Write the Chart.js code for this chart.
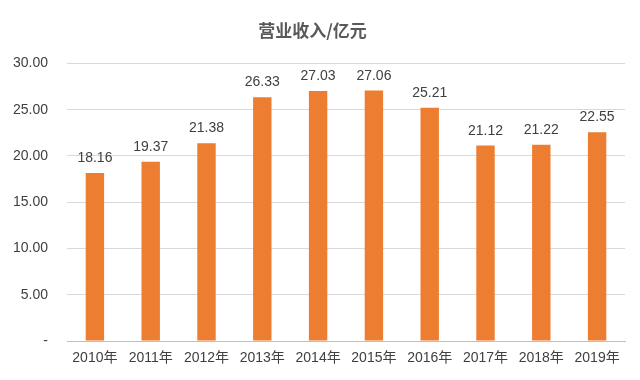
<!DOCTYPE html>
<html>
<head>
<meta charset="utf-8">
<script src="https://cdn.jsdelivr.net/npm/chart.js@4"></script>
<style>
  html, body { margin: 0; padding: 0; background: #fff; }
  #wrap { width: 640px; height: 380px; }
</style>
</head>
<body>
<div id="wrap"><canvas id="revChart"></canvas></div>
<script>
// chart data
const years = ['2010年', '2011年', '2012年', '2013年', '2014年', '2015年', '2016年', '2017年', '2018年', '2019年'];
const revenue = [18.16, 19.37, 21.38, 26.33, 27.03, 27.06, 25.21, 21.12, 21.22, 22.55];
const yTicks = [0, 5, 10, 15, 20, 25, 30];

const fontFamily = '"Liberation Sans", "Noto Sans CJK SC", sans-serif';

// draw value labels above each bar
const barLabels = {
    id: 'barLabels',
    afterDatasetsDraw(chart) {
        const ctx = chart.ctx;
        const meta = chart.getDatasetMeta(0);
        ctx.save();
        ctx.font = '14px ' + fontFamily;
        ctx.fillStyle = '#404040';
        ctx.textAlign = 'center';
        ctx.textBaseline = 'alphabetic';
        meta.data.forEach((bar, i) => {
            ctx.fillText(revenue[i].toFixed(2), bar.x, bar.y - 11);
        });
        ctx.restore();
    }
};

const ctx = document.getElementById('revChart').getContext('2d');
new Chart(ctx, {
    type: 'bar',
    data: {
        labels: years,
        datasets: [{
            label: '营业收入',
            data: revenue,
            backgroundColor: '#ED7D31',
            categoryPercentage: 1,
            barPercentage: 0.33
        }]
    },
    options: {
        responsive: true,
        maintainAspectRatio: false,
        animation: false,
        layout: { padding: { left: 0, right: 15, top: 0, bottom: 0 } },
        plugins: {
            legend: { display: false },
            tooltip: { enabled: false },
            title: {
                display: true,
                text: '营业收入/亿元',
                color: '#595959',
                font: { family: '"Noto Sans CJK SC", sans-serif', size: 17, weight: 'bold', lineHeight: 1.2 },
                padding: { top: 20, bottom: 23 }
            }
        },
        scales: {
            x: {
                grid: { display: false, drawTicks: false },
                border: { color: '#bfbfbf' },
                afterFit: axis => { axis.height = 39; },
                ticks: {
                    color: '#404040',
                    font: { family: fontFamily, size: 14 },
                    padding: 9,
                    maxRotation: 0
                }
            },
            y: {
                min: 0,
                max: 30,
                afterBuildTicks: axis => { axis.ticks = yTicks.map(v => ({ value: v })); },
                afterFit: axis => { axis.width = 67; },
                grid: { color: '#d9d9d9', drawTicks: false },
                border: { display: false },
                ticks: {
                    color: '#404040',
                    font: { family: fontFamily, size: 14 },
                    padding: 19,
                    callback: v => v === 0 ? '-' : v.toFixed(2)
                }
            }
        }
    },
    plugins: [barLabels]
});
</script>
</body>
</html>
